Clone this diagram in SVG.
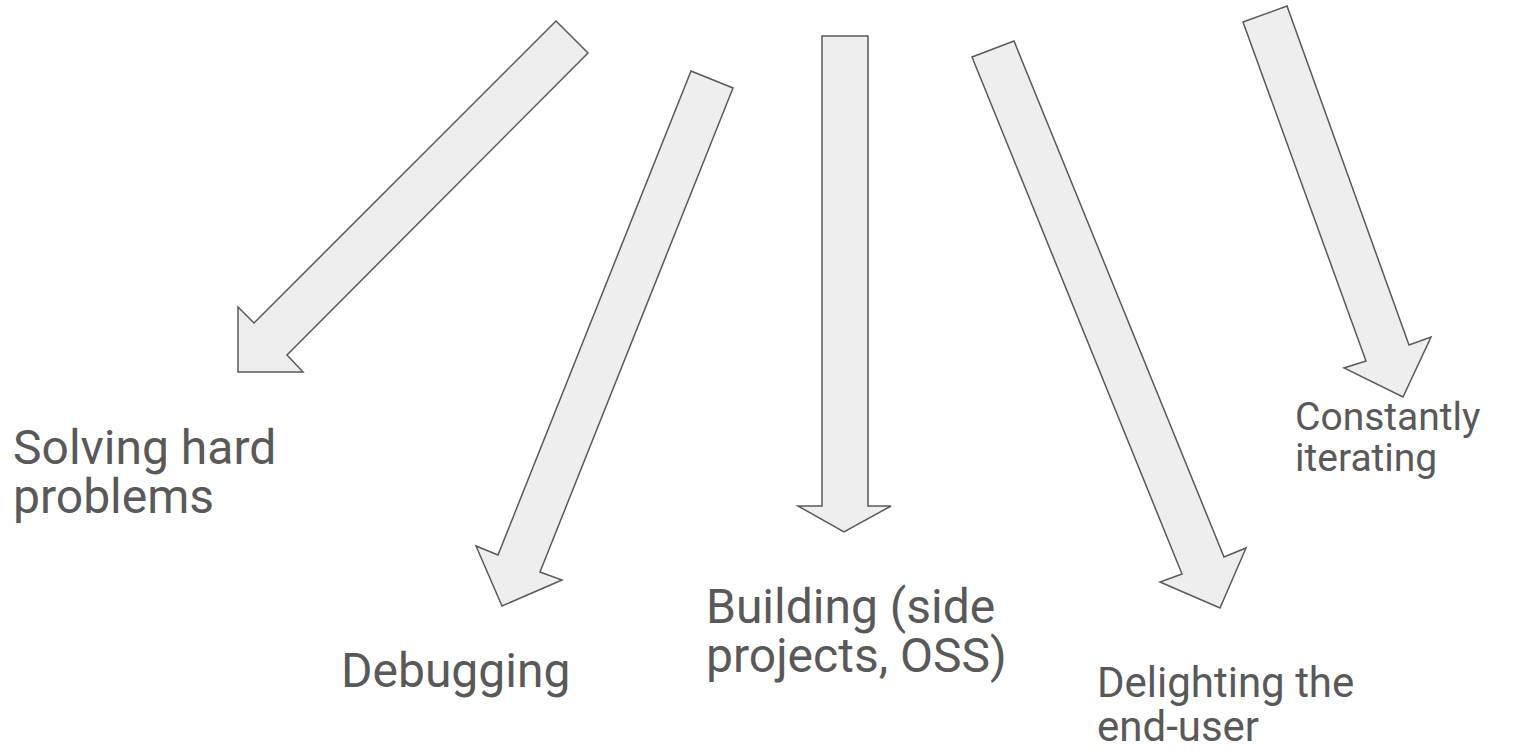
<svg xmlns="http://www.w3.org/2000/svg" width="1517" height="752" viewBox="0 0 1517 752">
<style>
.arrow{fill:#eeeeee;stroke:#595959;stroke-width:1.5;stroke-linejoin:miter}
.lbl{font-family:Roboto,"Liberation Sans",sans-serif;font-size:48px;fill:#595959}
.sm{font-size:39px}
.md{font-size:42px}
</style>
<rect width="1517" height="752" fill="#ffffff"/>
<g id="connectors">
<polygon class="arrow" points="556,21 588,53 287,355 303,372 238,372 238,307 254,323"/>
<polygon class="arrow" points="691,71 733,88 540,572 562,580 502,606 476,546 498,555"/>
<polygon class="arrow" points="822,36 868,36 868,506 891,506 844,532 798,506 822,506"/>
<polygon class="arrow" points="972,57 1014,41 1224,557 1246,548 1220,608 1160,582 1182,574"/>
<polygon class="arrow" points="1243,22 1287,6 1409,345 1431,337 1403,397 1344,368 1366,361"/>
</g>
<g id="node-solving"><text class="lbl" x="13" y="464">Solving hard</text><text class="lbl" x="13" y="513">problems</text></g>
<g id="node-debugging"><text class="lbl" x="341" y="687">Debugging</text></g>
<g id="node-building"><text class="lbl" x="706" y="623">Building (side</text><text class="lbl" x="706" y="672">projects, OSS)</text></g>
<g id="node-delighting"><text class="lbl md" x="1097" y="697">Delighting the</text><text class="lbl md" x="1097" y="741">end-user</text></g>
<g id="node-constantly"><text class="lbl sm" x="1295" y="430">Constantly</text><text class="lbl sm" x="1295" y="471">iterating</text></g>
</svg>
